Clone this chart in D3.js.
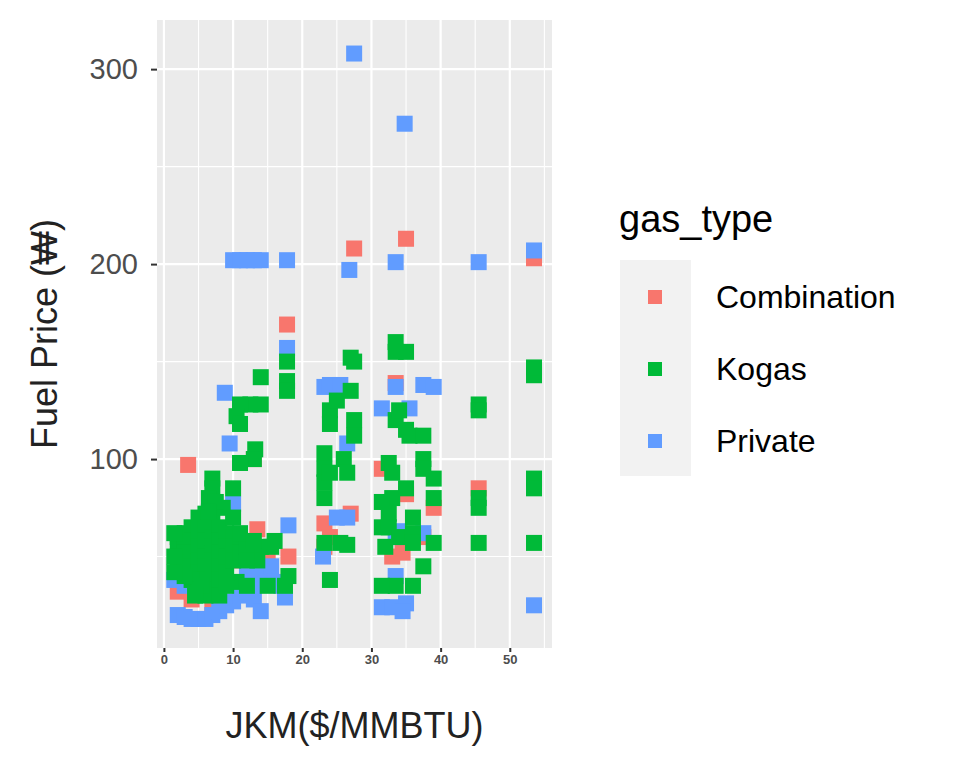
<!DOCTYPE html><html><head><meta charset="utf-8"><script src="https://cdn.jsdelivr.net/npm/d3@7"></script>
<style>body{margin:0;background:#fff}text{font-family:Arial,"Liberation Sans",sans-serif}</style></head><body><svg id="c" width="968" height="766"></svg>
<script>
const xTicks=[0,10,20,30,40,50], yTicks=[100,200,300];
const seriesNames=["Combination","Kogas","Private"];
const colors=["#F8766D","#00BA38","#619CFF"];
const combination=[[27.5,208],[35,213],[53.5,203],[17.8,169],[33.5,139],[3.5,97],[13,100],[31.5,95],[45.5,85],[39,75],[27,72],[23.2,67],[24,60],[23.2,55],[35,82],[13.5,64],[33,50],[34.5,52],[37.5,60],[18,50],[2,32],[4,28],[7,26],[11,48],[15,48],[3,42]];
const privateP=[[27.5,308],[34.8,272],[53.5,207],[45.5,201],[33.5,201],[26.8,197],[10,202],[11,202],[12,202],[13,202],[14,202],[17.8,202],[17.8,157],[8.8,134],[23.2,137],[24,138],[25.5,138],[33.5,137],[37.5,138],[39,137],[35.5,126],[31.5,126],[9.5,108],[26.5,108],[10,77],[25,70],[26.5,70],[18,66],[23,50],[33.5,40],[12,40],[14,42],[17,35],[15.5,45],[31.5,24],[33,24],[35,26],[34.5,22],[53.5,25],[2,20],[3,19],[4,18],[5,18],[6,18],[7,20],[8,22],[9,25],[10,27],[11,30],[12,32],[13,28],[14,22],[17.5,29],[1.5,38],[3,35],[16,37],[13,35],[33.5,60],[37.5,62],[34,63]];
const kogas=[[53.5,143],[53.5,147],[53.5,90],[53.5,85],[53.5,57],[45.5,128],[45.5,125],[45.5,80],[45.5,75],[45.5,57],[33.5,160],[35,155],[33.5,155],[27,152],[27.5,150],[17.8,150],[17.8,140],[17.8,135],[14,142],[14,128],[12.5,128],[11,128],[10.5,122],[11,118],[13.2,105],[13,100],[11,98],[10,85],[7,90],[7,85],[6.5,80],[23.2,103],[23.2,95],[23.2,88],[23.2,80],[24,125],[24,118],[25,130],[27,135],[27.5,120],[27.5,112],[26,100],[26.5,93],[24,93],[33.5,120],[34,125],[35,115],[35.5,112],[37.5,112],[37.5,100],[37.5,95],[39,90],[39,80],[32.5,98],[33,93],[33,80],[31.5,78],[32.5,72],[31.5,65],[32.5,65],[34,60],[36,62],[36,57],[39,57],[37.5,45],[36,35],[33.5,35],[31.5,35],[35,85],[36,70],[32,55],[23.2,57],[25.5,57],[26.5,56],[18,40],[17.5,35],[24,38],[15,35],[15.5,55],[16,58],[14,55],[13.5,48],[10.5,37],[12,35],
[2,60],[2,55],[2,50],[2,45],[3,62],[3,57],[3,52],[3,47],[4,65],[4,58],[4,52],[4,45],[5,70],[5,62],[5,55],[5,48],[5,42],[6,72],[6,65],[6,58],[6,50],[6,45],[6,38],[7,68],[7,60],[7,55],[7,48],[7,40],[7,33],[8,65],[8,58],[8,52],[8,45],[8,38],[9,62],[9,55],[9,50],[9,42],[10,60],[10,55],[10,48],[11,58],[11,52],[12,55],[12,48],[4,38],[5,33],[6,30],[8,30],[9,35],[3,40],[1.5,62],[1.5,50],[1.5,42],[8.5,75],[7.5,78],[6.5,73],[10,70],[11,62],[13,58],[5.5,35],[4.5,30]];
const svg=d3.select("#c");
const L=157,R=552,T=20,B=648;
const x=d3.scaleLinear().domain([-1.0,56.1]).range([L,R]);
const y=d3.scaleLinear().domain([3.1,325.2]).range([B,T]);
svg.append("rect").attr("x",L).attr("y",T).attr("width",R-L).attr("height",B-T).attr("fill","#EBEBEB");
const g=svg.append("g");
[5,15,25,35,45,55].forEach(v=>g.append("line").attr("x1",x(v)).attr("x2",x(v)).attr("y1",T).attr("y2",B).attr("stroke","#fff").attr("stroke-width",1.1));
[50,150,250].forEach(v=>g.append("line").attr("y1",y(v)).attr("y2",y(v)).attr("x1",L).attr("x2",R).attr("stroke","#fff").attr("stroke-width",1.1));
xTicks.forEach(v=>g.append("line").attr("x1",x(v)).attr("x2",x(v)).attr("y1",T).attr("y2",B).attr("stroke","#fff").attr("stroke-width",2.2));
yTicks.forEach(v=>g.append("line").attr("y1",y(v)).attr("y2",y(v)).attr("x1",L).attr("x2",R).attr("stroke","#fff").attr("stroke-width",2.2));
const s=16;
[[combination,0],[privateP,2],[kogas,1]].forEach(([d,i])=>{
 svg.append("g").selectAll("rect").data(d).join("rect").attr("x",p=>x(p[0])-s/2).attr("y",p=>y(p[1])-s/2).attr("width",s).attr("height",s).attr("fill",colors[i]);
});
const xa=svg.append("g").attr("transform",`translate(0,${B})`).call(d3.axisBottom(x).tickValues(xTicks).tickSize(4).tickPadding(3));
xa.select(".domain").remove();
xa.selectAll("line").attr("stroke","#333").attr("stroke-width",2);
xa.selectAll("text").attr("font-size",13).attr("font-weight","bold").attr("fill","#4D4D4D");
const ya=svg.append("g").attr("transform",`translate(${L},0)`).call(d3.axisLeft(y).tickValues(yTicks).tickSize(6).tickPadding(13));
ya.select(".domain").remove();
ya.selectAll("line").attr("stroke","#333").attr("stroke-width",2);
ya.selectAll("text").attr("font-size",29).attr("fill","#4D4D4D");
svg.append("text").attr("x",(L+R)/2).attr("y",738).attr("text-anchor","middle").attr("font-size",36).attr("fill","#222").text("JKM($/MMBTU)");
svg.append("text").attr("transform",`translate(57,${(T+B)/2}) rotate(-90)`).attr("text-anchor","middle").attr("font-size",36).attr("fill","#222").text("Fuel Price (₩)");
svg.append("text").attr("x",619).attr("y",232).attr("font-size",38).attr("fill","#000").text("gas_type");
svg.append("rect").attr("x",620).attr("y",260).attr("width",71).attr("height",216).attr("fill","#F2F2F2");
seriesNames.forEach((n,i)=>{const cy=297+i*72;
 svg.append("rect").attr("x",648).attr("y",cy-7).attr("width",14).attr("height",14).attr("fill",colors[i]);
 svg.append("text").attr("x",716).attr("y",cy+11).attr("font-size",32).attr("fill","#000").text(n);});
</script></body></html>
